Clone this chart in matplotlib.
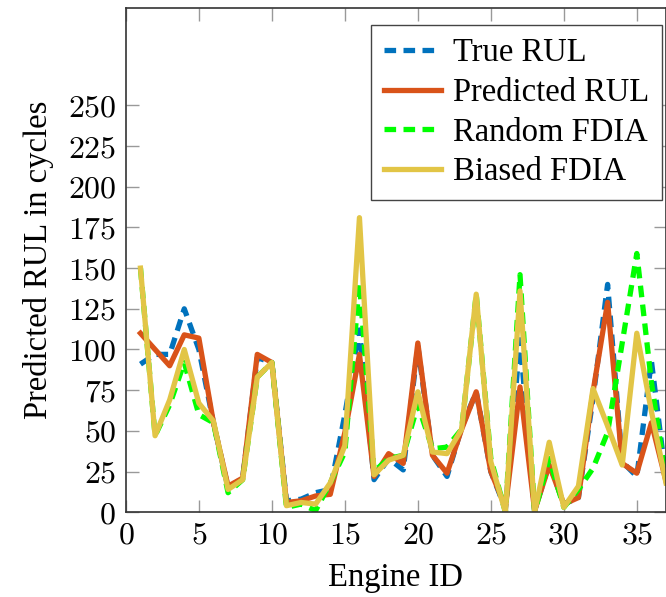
import numpy as np
import matplotlib
matplotlib.use("Agg")
import matplotlib.pyplot as plt
from matplotlib.ticker import FuncFormatter

plt.rcParams["font.family"] = ["Liberation Serif", "DejaVu Serif"]
plt.rcParams["mathtext.fontset"] = "cm"

# data
engine_id = np.arange(1, 38)
true_rul = [91, 97, 97, 125, 100, 55, 15, 21, 95, 92, 7, 8, 12, 14, 60, 112, 20, 33, 26, 102,
            35, 22, 52, 74, 25, 2, 106, 1, 30, 5, 9, 70, 140, 31, 22, 93, 20]
pred_rul = [110, 100, 90, 109, 107, 55, 16, 21, 97, 92, 6, 7, 10, 11, 49, 97, 22, 36, 30, 104,
            35, 24, 51, 74, 25, 3, 77, 1, 29, 5, 9, 74, 129, 30, 24, 55, 19]
random_fdia = [150, 47, 66, 92, 60, 55, 12, 20, 83, 92, 3, 5, 1, 18, 37, 141, 25, 33, 35, 66,
               39, 40, 51, 134, 33, 0, 146, 0, 33, 3, 14, 27, 49, 104, 159, 80, 20]
biased_fdia = [150, 47, 69, 100, 67, 56, 14, 20, 83, 92, 4, 6, 5, 18, 41, 181, 23, 32, 35, 74,
               37, 36, 51, 134, 31, 0, 136, 0, 43, 3, 16, 76, 53, 29, 110, 62, 18]

fs = 23.5

fig = plt.figure(figsize=(6.66, 5.97), dpi=100)
ax = fig.add_axes([0.189, 0.142, 0.811, 0.845])

lw = 3.8
dash = (0, (2.2, 1.4))
ax.plot(engine_id, true_rul, color="#0072BD", lw=lw, ls=dash, label="True RUL")
ax.plot(engine_id, pred_rul, color="#D95319", lw=lw, label="Predicted RUL")
ax.plot(engine_id, random_fdia, color="#00FF00", lw=lw, ls=dash, label="Random FDIA")
ax.plot(engine_id, biased_fdia, color="#E2C546", lw=lw, label="Biased FDIA")

ax.set_xlim(0, 37)
ax.set_ylim(0, 310)
ax.set_xticks(range(0, 36, 5))
ax.set_yticks(range(0, 251, 25))
fmt = FuncFormatter(lambda v, p: "$%d$" % v)
ax.xaxis.set_major_formatter(fmt)
ax.yaxis.set_major_formatter(fmt)
ax.tick_params(direction="in", length=9, width=1, color="#999999",
               top=True, right=True, labelsize=23, pad=7)
for s in ax.spines.values():
    s.set_color("#333333")
    s.set_linewidth(1.2)

ax.set_xlabel("Engine ID", fontsize=fs, labelpad=8)
ax.set_ylabel("Predicted RUL in cycles", fontsize=fs, labelpad=10)

leg = ax.legend(loc="upper right", bbox_to_anchor=(0.993, 0.966), borderaxespad=0,
                fontsize=fs, fancybox=False, edgecolor="#444444", framealpha=1,
                handlelength=1.75, labelspacing=0.28, borderpad=0.4, handletextpad=0.35)
leg.get_frame().set_linewidth(1.0)

fig.savefig("out.png", dpi=100)
